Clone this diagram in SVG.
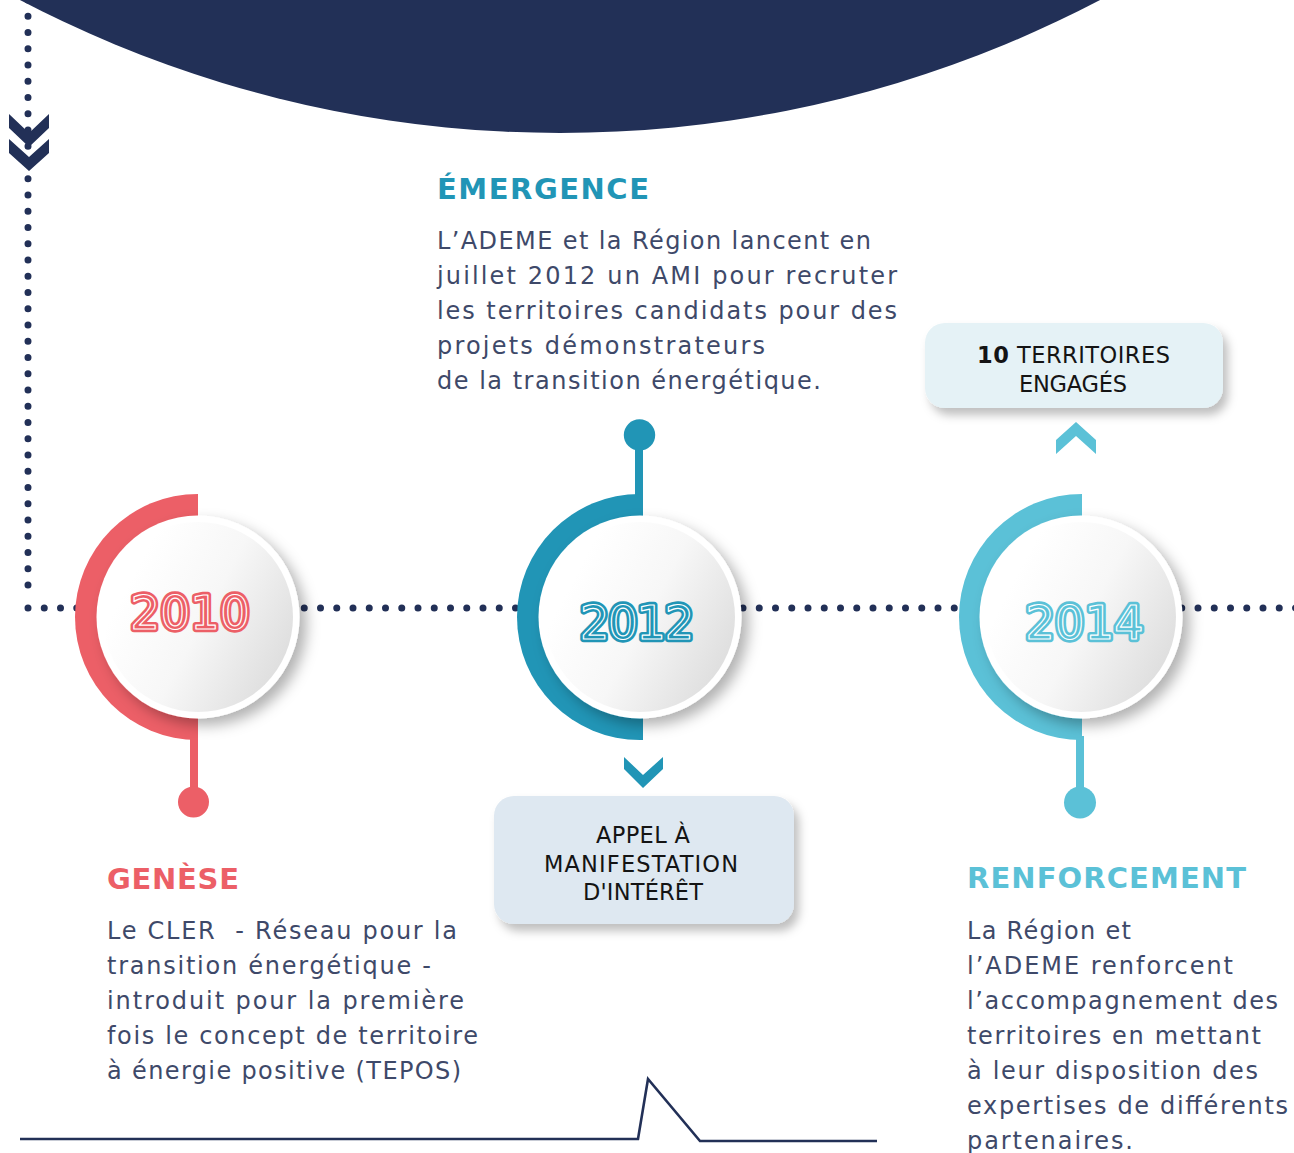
<svg xmlns="http://www.w3.org/2000/svg" width="1294" height="1153" viewBox="0 0 1294 1153">
<defs>
  <linearGradient id="disc" x1="0.15" y1="0.3" x2="1" y2="0.75">
    <stop offset="0" stop-color="#ffffff"/>
    <stop offset="0.45" stop-color="#f7f7f7"/>
    <stop offset="1" stop-color="#dcdcdc"/>
  </linearGradient>
  <filter id="sh" x="-30%" y="-30%" width="170%" height="170%">
    <feDropShadow dx="7" dy="7" stdDeviation="7" flood-color="#000" flood-opacity="0.3"/>
  </filter>
  <filter id="boxsh" x="-20%" y="-30%" width="140%" height="170%">
    <feDropShadow dx="5" dy="7" stdDeviation="5" flood-color="#000" flood-opacity="0.25"/>
  </filter>
</defs>
<style>
  .dots{fill:none;stroke:#223057;stroke-width:7;stroke-linecap:round;stroke-dasharray:0 16.25}
  .title{font-family:"DejaVu Sans","Liberation Sans",sans-serif;font-weight:bold;font-size:29px}
  .body{font-family:"DejaVu Sans","Liberation Sans",sans-serif;font-size:24px;fill:#3e4969}
  .box{font-family:"DejaVu Sans","Liberation Sans",sans-serif;font-size:22.5px;fill:#141414;text-anchor:middle}
  .year{font-family:"DejaVu Sans",sans-serif;font-size:46px;text-anchor:middle;stroke-linejoin:round}
  .yo{stroke-width:6.5}
  .yi{fill:none;stroke:#ffffff;stroke-width:1.2}
  .chev{fill:#223057}
  .navy{fill:none;stroke:#223057;stroke-width:2.6}
</style>
<rect width="1294" height="1153" fill="#ffffff"/>

<g id="connectors">
  <path class="dots" d="M28,585 V-5"/>
  <path class="dots" d="M28,608 H1300"/>
  <polyline class="navy" points="20,1139 638,1139 648,1079 700,1141 877,1141"/>
</g>

<g id="top-shape">
  <circle cx="560" cy="-1030" r="1163" fill="#223057"/>
  <polygon class="chev" points="9,114 29,133 49,114 49,128 29,147 9,128"/>
  <polygon class="chev" points="9,139 29,157 49,139 49,153 29,171 9,153"/>
</g>

<g id="node-2010">
  <path d="M198,494 A123,123 0 0 0 198,740 Z" fill="#ec5f67"/>
  <rect x="190" y="736" width="8" height="64" fill="#ec5f67"/>
  <circle cx="193.5" cy="802" r="15.5" fill="#ec5f67"/>
  <circle cx="198" cy="617" r="101.5" fill="#ffffff" filter="url(#sh)"/>
  <circle cx="198" cy="617" r="95" fill="url(#disc)"/>
  <text class="year yo" x="190" y="629" textLength="119" fill="#ec5f67" stroke="#ec5f67">2010</text>
  <text class="year yi" x="190" y="629" textLength="119">2010</text>
</g>

<g id="node-2012">
  <rect x="635" y="435" width="8" height="64" fill="#2195b6"/>
  <circle cx="639.5" cy="435" r="15.7" fill="#2195b6"/>
  <path d="M643,494 H640 A123,123 0 0 0 640,740 H643 Z" fill="#2195b6"/>
  <circle cx="640" cy="617" r="101.5" fill="#ffffff" filter="url(#sh)"/>
  <circle cx="640" cy="617" r="95" fill="url(#disc)"/>
  <text class="year yo" x="637" y="639" textLength="114" fill="#2195b6" stroke="#2195b6">2012</text>
  <text class="year yi" x="637" y="639" textLength="114">2012</text>
  <polygon points="624,757 643,775 663,757 663,769 643,788 624,769" fill="#2195b6"/>
</g>

<g id="node-2014">
  <path d="M1082,494 A123,123 0 0 0 1082,740 Z" fill="#5bc1d7"/>
  <rect x="1076" y="736" width="8" height="64" fill="#5bc1d7"/>
  <circle cx="1080" cy="802.5" r="16" fill="#5bc1d7"/>
  <circle cx="1081" cy="617" r="101.5" fill="#ffffff" filter="url(#sh)"/>
  <circle cx="1081" cy="617" r="95" fill="url(#disc)"/>
  <text class="year yo" x="1084.5" y="638.5" textLength="118" fill="#5bc1d7" stroke="#5bc1d7">2014</text>
  <text class="year yi" x="1084.5" y="638.5" textLength="118">2014</text>
  <polygon points="1056,440 1076,422 1096,440 1096,454 1076,436 1056,454" fill="#5bc1d7"/>
</g>

<g id="box-territoires">
  <rect x="925" y="323" width="298" height="85" rx="20" fill="#e5f2f6" filter="url(#boxsh)"/>
  <text class="box" x="1073.5" y="363" textLength="193"><tspan font-weight="bold">10</tspan> TERRITOIRES</text>
  <text class="box" x="1073" y="392" textLength="108">ENGAGÉS</text>
</g>

<g id="box-ami">
  <rect x="494" y="796" width="300" height="128" rx="20" fill="#dee8f1" filter="url(#boxsh)"/>
  <text class="box" x="643" y="843" textLength="94">APPEL À</text>
  <text class="box" x="641" y="872" textLength="194">MANIFESTATION</text>
  <text class="box" x="643" y="900" textLength="120">D'INTÉRÊT</text>
</g>

<g id="text-emergence">
  <text class="title" x="437" y="199" fill="#2195b6" textLength="212">ÉMERGENCE</text>
  <text class="body" x="437" y="249">
    <tspan x="437" y="249" textLength="434">L’ADEME et la Région lancent en</tspan>
    <tspan x="437" y="284" textLength="460">juillet 2012 un AMI pour recruter</tspan>
    <tspan x="437" y="319" textLength="460">les territoires candidats pour des</tspan>
    <tspan x="437" y="354" textLength="328">projets démonstrateurs</tspan>
    <tspan x="437" y="389" textLength="384">de la transition énergétique.</tspan>
  </text>
</g>

<g id="text-genese">
  <text class="title" x="107" y="889" fill="#ec5f67" textLength="132">GENÈSE</text>
  <text class="body" x="107" y="939" style="white-space:pre">
    <tspan x="107" y="939" textLength="350">Le CLER  - Réseau pour la</tspan>
  </text>
  <text class="body" x="107" y="974">
    <tspan x="107" y="974" textLength="324">transition énergétique -</tspan>
    <tspan x="107" y="1009" textLength="357">introduit pour la première</tspan>
    <tspan x="107" y="1044" textLength="371">fois le concept de territoire</tspan>
    <tspan x="107" y="1079" textLength="354">à énergie positive (TEPOS)</tspan>
  </text>
</g>

<g id="text-renforcement">
  <text class="title" x="967" y="888" fill="#5bc1d7" textLength="279">RENFORCEMENT</text>
  <text class="body" x="967" y="939">
    <tspan x="967" y="939" textLength="164">La Région et</tspan>
    <tspan x="967" y="974" textLength="266">l’ADEME renforcent</tspan>
    <tspan x="967" y="1009" textLength="311">l’accompagnement des</tspan>
    <tspan x="967" y="1044" textLength="294">territoires en mettant</tspan>
    <tspan x="967" y="1079" textLength="291">à leur disposition des</tspan>
    <tspan x="967" y="1114" textLength="321">expertises de différents</tspan>
    <tspan x="967" y="1149" textLength="166">partenaires.</tspan>
  </text>
</g>
</svg>
